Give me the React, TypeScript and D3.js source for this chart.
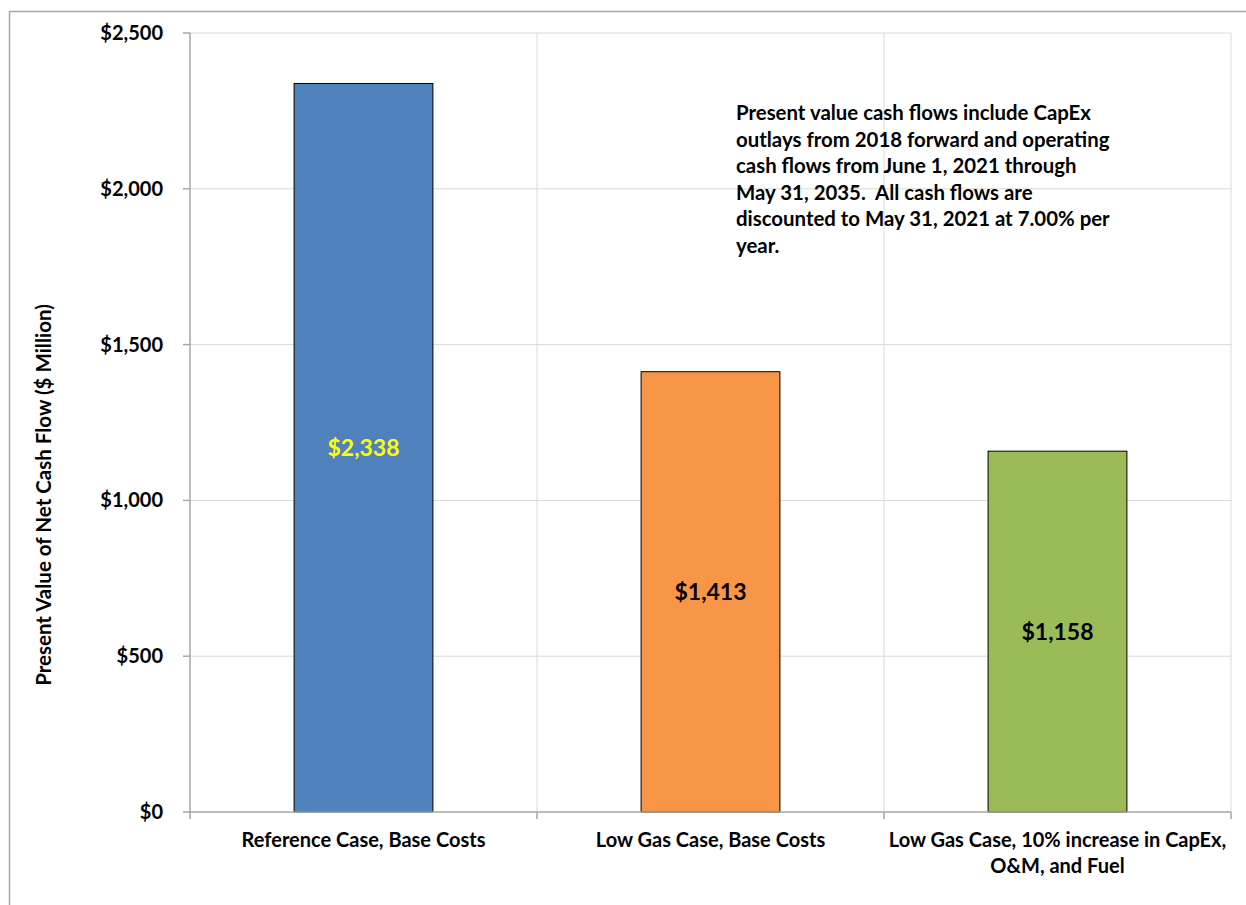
import { useMemo } from "react";
import * as d3 from "d3";

const categories = [
  ["Reference Case, Base Costs"],
  ["Low Gas Case, Base Costs"],
  ["Low Gas Case, 10% increase in CapEx,", "O&M, and Fuel"],
];
const values = [2338, 1413, 1158];
const barColors = ["#4f81bd", "#f79646", "#9bbb59"];
const labelColors = ["#ffff00", "#000000", "#000000"];
const yTicks = [0, 500, 1000, 1500, 2000, 2500];
const noteLines = [
  "Present value cash flows include CapEx",
  "outlays from 2018 forward and operating",
  "cash flows from June 1, 2021 through",
  "May 31, 2035.  All cash flows are",
  "discounted to May 31, 2021 at 7.00% per",
  "year.",
];

const WIDTH = 1246;
const HEIGHT = 905;
const FONT = "Lato, Carlito, Calibri, 'Liberation Sans', sans-serif";

export default function App() {
  const margin = { top: 33, right: 15, bottom: 93, left: 190 };
  const plotW = WIDTH - margin.left - margin.right;
  const plotH = HEIGHT - margin.top - margin.bottom;

  const x = useMemo(
    () => d3.scaleBand<number>().domain(values.map((_, i) => i)).range([0, plotW]).padding(0),
    [plotW]
  );
  const y = useMemo(() => d3.scaleLinear().domain([0, 2500]).range([plotH, 0]), [plotH]);

  const step = x.step();
  const barW = step * 0.4;
  const fmt = (v: number) => "$" + d3.format(",")(v);
  const boundaries = d3.range(values.length + 1).map((i) => i * step);

  return (
    <svg
      width={WIDTH}
      height={HEIGHT}
      style={{ position: "absolute", left: 0, top: 0, background: "#fff" }}
      fontFamily={FONT}
      fontWeight={700}
    >
      <rect x={9.5} y={11.5} width={WIDTH + 20} height={HEIGHT + 20} fill="#fff" stroke="#a6a6a6" strokeWidth={1.5} />
      <g transform={`translate(${margin.left},${margin.top})`}>
        {yTicks.slice(1).map((t) => (
          <line key={"h" + t} x1={0} x2={plotW} y1={y(t)} y2={y(t)} stroke="#d9d9d9" strokeWidth={1} />
        ))}
        {boundaries.slice(1).map((b) => (
          <line key={"v" + b} x1={b} x2={b} y1={0} y2={plotH} stroke="#d9d9d9" strokeWidth={1} />
        ))}
        {values.map((v, i) => {
          const bx = (x(i) ?? 0) + (step - barW) / 2;
          return (
            <g key={i}>
              <rect
                x={bx}
                y={y(v)}
                width={barW}
                height={plotH - y(v)}
                fill={barColors[i]}
                stroke="#000"
                strokeWidth={1}
              />
              <text
                x={bx + barW / 2}
                y={(y(v) + plotH) / 2}
                dy="0.35em"
                textAnchor="middle"
                fontSize={23}
                fill={labelColors[i]}
              >
                {fmt(v)}
              </text>
            </g>
          );
        })}
        <line x1={0} x2={0} y1={0} y2={plotH} stroke="#a6a6a6" strokeWidth={1.5} />
        <line x1={0} x2={plotW} y1={plotH} y2={plotH} stroke="#a6a6a6" strokeWidth={1.5} />
        {yTicks.map((t) => (
          <g key={"t" + t} transform={`translate(0,${y(t)})`}>
            <line x1={-7} x2={0} stroke="#a6a6a6" strokeWidth={1.5} />
            <text x={-27} dy="0.35em" textAnchor="end" fontSize={20} fill="#000">
              {fmt(t)}
            </text>
          </g>
        ))}
        {boundaries.map((b) => (
          <line key={"xt" + b} x1={b} x2={b} y1={plotH} y2={plotH + 7} stroke="#a6a6a6" strokeWidth={1.5} />
        ))}
        {categories.map((lines, i) => (
          <text
            key={"c" + i}
            x={(x(i) ?? 0) + step / 2}
            y={plotH + 35}
            textAnchor="middle"
            fontSize={20}
            fill="#000"
          >
            {lines.map((l, j) => (
              <tspan key={j} x={(x(i) ?? 0) + step / 2} dy={j === 0 ? 0 : 26}>
                {l}
              </tspan>
            ))}
          </text>
        ))}
        <text x={546} y={87} fontSize={20.4} fill="#000">
          {noteLines.map((l, j) => (
            <tspan key={j} x={546} dy={j === 0 ? 0 : 26.5} style={{ whiteSpace: "pre" }}>
              {l}
            </tspan>
          ))}
        </text>
      </g>
      <text
        transform={`translate(51,495) rotate(-90)`}
        textAnchor="middle"
        fontSize={20.5}
        fill="#000"
      >
        Present Value of Net Cash Flow ($ Million)
      </text>
    </svg>
  );
}
